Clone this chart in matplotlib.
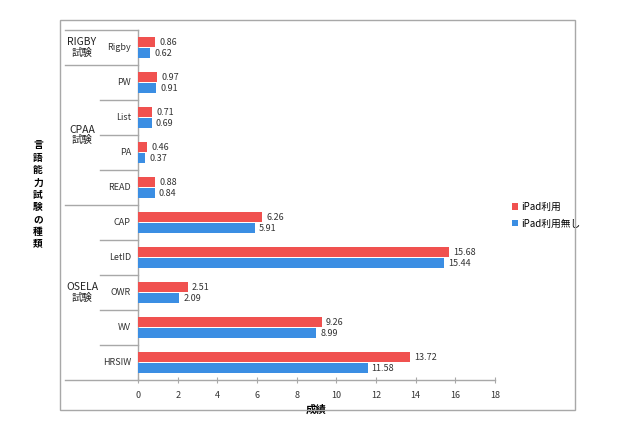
import matplotlib
matplotlib.use("Agg")
import matplotlib.pyplot as plt
import matplotlib.transforms as mtransforms
from matplotlib.patches import Rectangle
import numpy as np

plt.rcParams['font.family'] = ['Noto Sans CJK JP', 'DejaVu Sans']

categories = ["Rigby", "PW", "List", "PA", "READ", "CAP", "LetID", "OWR", "WV", "HRSIW"]
ipad = [0.86, 0.97, 0.71, 0.46, 0.88, 6.26, 15.68, 2.51, 9.26, 13.72]
no_ipad = [0.62, 0.91, 0.69, 0.37, 0.84, 5.91, 15.44, 2.09, 8.99, 11.58]
groups = [("RIGBY\n試験", 0, 0), ("CPAA\n試験", 1, 4), ("OSELA\n試験", 5, 9)]
series_names = ["iPad利用", "iPad利用無し"]
xticks = [0, 2, 4, 6, 8, 10, 12, 14, 16, 18]

red = "#f0514f"
blue = "#3b8ee3"
grey = "#a8a8a8"

fig = plt.figure(figsize=(6.4, 4.22), dpi=100)
# outer frame
fig.patches.append(Rectangle((60/640, 1-410/422), 515/640, 390/422, transform=fig.transFigure,
                             fill=False, edgecolor=grey, linewidth=1))

ax = fig.add_axes([138/640, 1-380/422, 357/640, 350/422])
y = np.arange(len(categories))
h = 0.29
ax.barh(y - h/2 - 0.01, ipad, height=h, color=red, label=series_names[0], zorder=3)
ax.barh(y + h/2 + 0.01, no_ipad, height=h, color=blue, label=series_names[1], zorder=3)

for i in range(len(categories)):
    ax.text(ipad[i] + 0.2, y[i] - h/2, "%.2f" % ipad[i], va="center", ha="left", fontsize=6.5, color="#333333")
    ax.text(no_ipad[i] + 0.2, y[i] + h/2 + 0.03, "%.2f" % no_ipad[i], va="center", ha="left", fontsize=6.5, color="#333333")

ax.set_xlim(0, 18)
ax.set_ylim(9.5, -0.5)
ax.set_xticks(xticks)
ax.set_xticklabels([str(t) for t in xticks], fontsize=6.5, color="#333333")
ax.tick_params(axis="x", direction="inout", length=4, color=grey, pad=6)
ax.set_yticks([])
for s in ["top", "right"]:
    ax.spines[s].set_visible(False)
for s in ["left", "bottom"]:
    ax.spines[s].set_color(grey)
    ax.spines[s].set_linewidth(1)
ax.set_xlabel("成績", fontsize=7.5, fontweight="bold", labelpad=3)

# left table of category / group labels
trans = mtransforms.blended_transform_factory(ax.transAxes, ax.transData)
x_outer = (65 - 138) / 357
x_inner = (100 - 138) / 357
x_lab = (131 - 138) / 357
x_grp = (82 - 138) / 357
for i, c in enumerate(categories):
    ax.text(x_lab, y[i], c, transform=trans, ha="right", va="center", fontsize=6.5, color="#333333")
for name, a, b in groups:
    ax.plot([x_outer, 0], [a - 0.5, a - 0.5], transform=trans, color=grey, lw=1, clip_on=False)
    for k in range(a, b):
        ax.plot([x_inner, 0], [k + 0.5, k + 0.5], transform=trans, color=grey, lw=1, clip_on=False)
    ax.text(x_grp, (a + b) / 2, name, transform=trans, ha="center", va="center",
            fontsize=7.5, linespacing=1.1, color="#222222")
ax.plot([x_outer, 0], [9.5, 9.5], transform=trans, color=grey, lw=1, clip_on=False)

# vertical axis title, stacked characters
fig.text(38/640, 1-195/422, "\n".join("言語能力試験の種類"), ha="center", va="center",
         fontsize=7, fontweight="bold", linespacing=1.3)

ax.legend(loc="upper left", bbox_to_anchor=(508/640, 1-198/422), bbox_transform=fig.transFigure,
          frameon=False, fontsize=7, handlelength=0.6, handleheight=0.6, handletextpad=0.4,
          labelspacing=0.7, borderaxespad=0)

fig.savefig("out.png", dpi=100)
